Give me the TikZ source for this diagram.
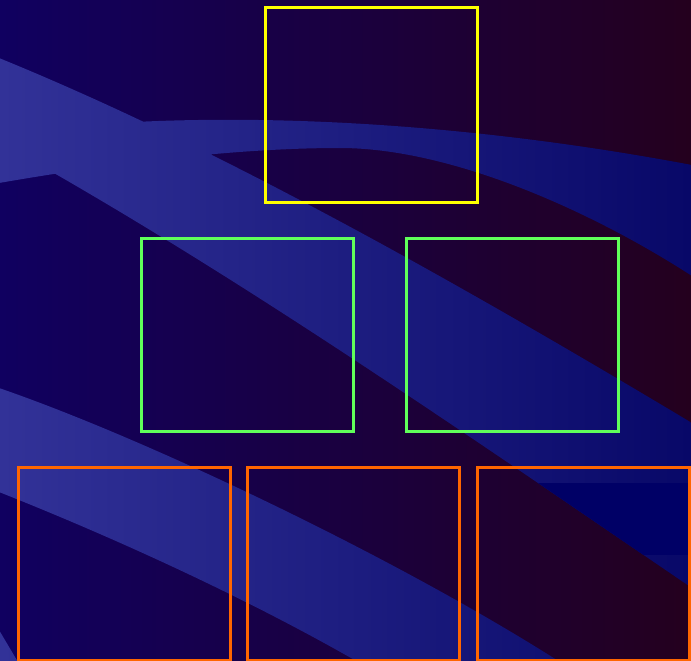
\documentclass[tikz,border=0pt]{standalone}
\begin{document}
\begin{tikzpicture}[x=1pt,y=-1pt,
  box/.style={draw, line width=3pt, minimum width=212pt, minimum height=194pt, inner sep=0pt, outer sep=0pt},
  ybox/.style={box, draw={rgb,255:red,255;green,255;blue,0}},
  gbox/.style={box, draw={rgb,255:red,96;green,255;blue,90}, minimum height=193pt},
  obox/.style={box, draw={rgb,255:red,255;green,102;blue,0}, minimum height=193pt}]
\useasboundingbox (0,0) rectangle (691,661);
% background
\shade[left color={rgb,255:red,16;green,0;blue,96}, right color={rgb,255:red,36;green,0;blue,30}] (0,0) rectangle (691,661);
% swooshes
\begin{scope}
\clip (0,0) rectangle (691,661);
\clip
  % band A
  (-1,58) .. controls (200,140) and (420,260) .. (692,423) -- (692,588)
  .. controls (460,430) and (230,270) .. (-1,142) -- cycle
  % band B
  (-1,135) .. controls (150,112) and (400,110) .. (692,165) -- (692,276)
  .. controls (590,210) and (450,148) .. (340,148)
  .. controls (240,148) and (120,162) .. (-1,183) -- cycle
  % band C
  (-1,388) .. controls (150,440) and (400,560) .. (560,662) -- (358,662)
  .. controls (250,600) and (120,540) .. (-1,492) -- cycle
  % band D
  (-1,630) -- (18,662) -- (-1,662) -- cycle;
\shade[left color={rgb,255:red,50;green,50;blue,152}, middle color={rgb,255:red,34;green,34;blue,126}, right color={rgb,255:red,8;green,8;blue,104}] (0,0) rectangle (691,661);
\fill[fill={rgb,255:red,0;green,0;blue,102}] (420,483) rectangle (691,555);
\end{scope}
% boxes
\node[ybox] (top) at (371,105) {};
\node[gbox] (mid1) at (247.5,334.5) {};
\node[gbox] (mid2) at (512,334.5) {};
\node[obox] (bot1) at (124,563.5) {};
\node[obox] (bot2) at (353,563.5) {};
\node[obox] (bot3) at (583,563.5) {};
\end{tikzpicture}
\end{document}
